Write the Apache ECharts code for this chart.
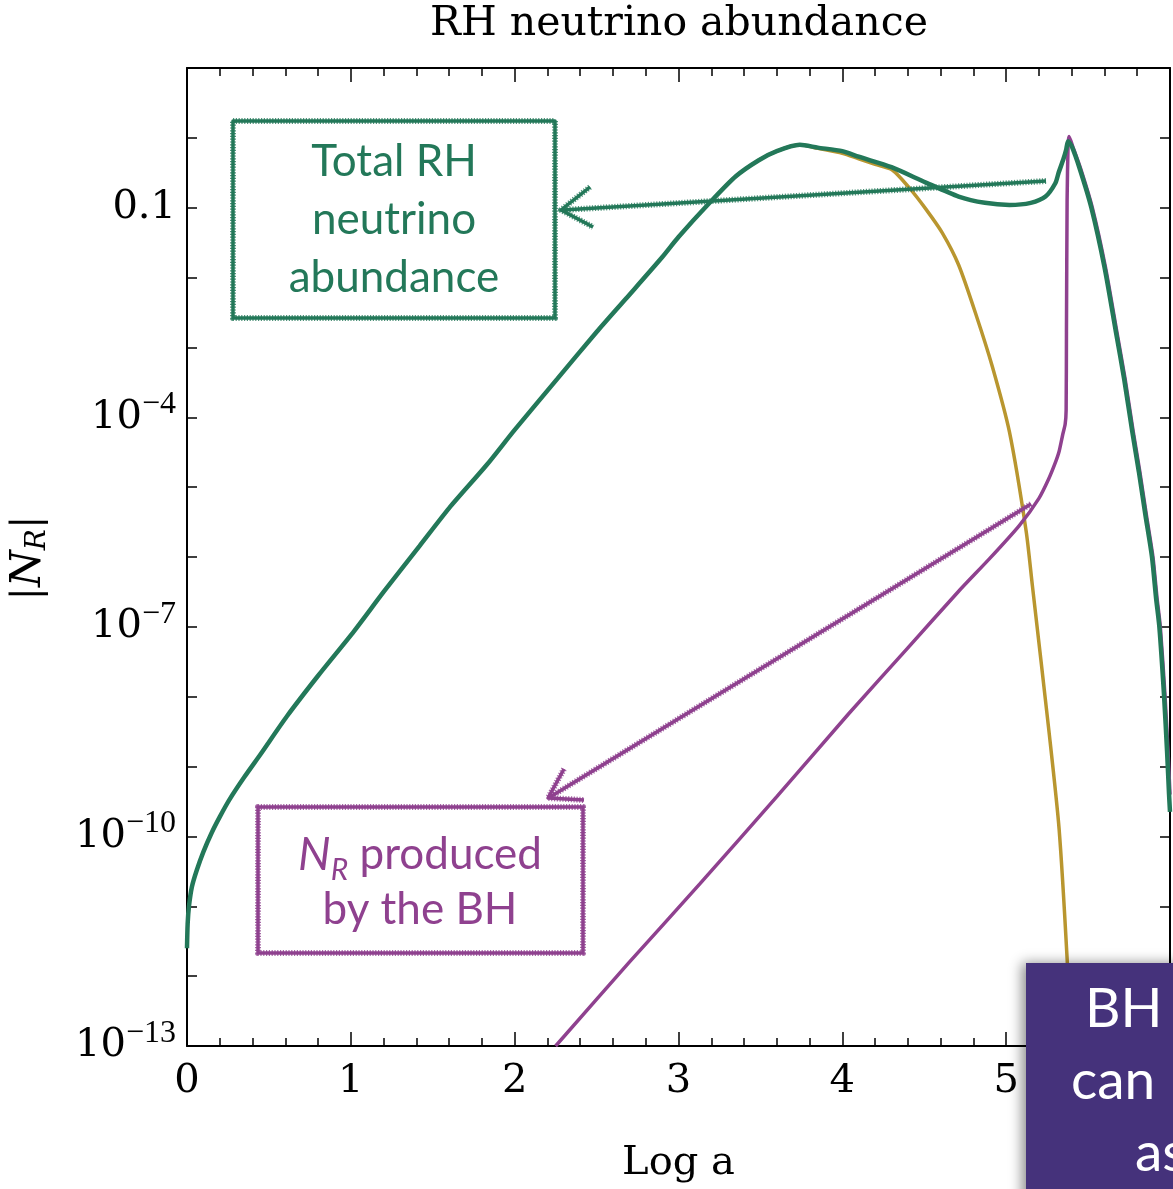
<!DOCTYPE html>
<html>
<head>
<meta charset="utf-8">
<script src="https://cdn.jsdelivr.net/npm/echarts@6.0.0/dist/echarts.min.js"></script>
<style>
  html, body { margin: 0; padding: 0; background: #fff; }
  #chart { width: 1173px; height: 1189px; }
</style>
</head>
<body>
<div id="chart"></div>
<script>
// values: x = Log a, y = log10 |N_R|
const greenX = [0, 0.004, 0.012, 0.03, 0.06, 0.10, 0.15, 0.20, 0.26, 0.35, 0.45, 0.61, 0.80, 1.02, 1.20, 1.42, 1.60, 1.83, 2.00, 2.26, 2.50, 2.68, 2.90, 3.00, 3.19, 3.35, 3.49, 3.60, 3.74, 3.85, 4.00, 4.10, 4.30, 4.51, 4.71, 4.87, 5.02, 5.15, 5.24, 5.30, 5.32, 5.35, 5.366, 5.378, 5.40, 5.45, 5.52, 5.60, 5.67, 5.72, 5.77, 5.81, 5.85, 5.89, 5.915, 5.935, 5.963, 5.982, 5.994, 6.0];
const greenLogN = [-11.60, -11.25, -11.00, -10.72, -10.48, -10.22, -9.95, -9.72, -9.47, -9.15, -8.82, -8.28, -7.70, -7.06, -6.50, -5.84, -5.30, -4.68, -4.18, -3.45, -2.78, -2.30, -1.71, -1.42, -0.93, -0.55, -0.32, -0.19, -0.10, -0.14, -0.19, -0.27, -0.42, -0.64, -0.84, -0.93, -0.96, -0.93, -0.84, -0.65, -0.50, -0.30, -0.17, -0.05, -0.12, -0.45, -1.00, -1.85, -2.78, -3.45, -4.21, -4.78, -5.40, -6.00, -6.59, -7.00, -7.96, -8.78, -9.39, -9.65];

const goldX = [3.19, 3.35, 3.49, 3.60, 3.74, 3.85, 4.00, 4.10, 4.20, 4.305, 4.41, 4.51, 4.61, 4.71, 4.82, 4.915, 5.02, 5.122, 5.16, 5.262, 5.323, 5.372, 5.40];
const goldLogN = [-0.93, -0.55, -0.32, -0.19, -0.10, -0.15, -0.22, -0.30, -0.38, -0.46, -0.72, -1.02, -1.36, -1.82, -2.56, -3.27, -4.21, -5.63, -6.41, -8.51, -9.89, -11.75, -13.2];

const purpleX = [2.25, 2.70, 3.13, 3.60, 4.04, 4.40, 4.71, 4.90, 5.08, 5.20, 5.26, 5.30, 5.323, 5.345, 5.36, 5.366, 5.368, 5.372, 5.378, 5.384, 5.406, 5.456, 5.526, 5.606, 5.676, 5.726, 5.776, 5.816, 5.856, 5.896, 5.921, 5.941, 5.969, 5.988, 6.0];
const purpleLogN = [-13.0, -11.80, -10.68, -9.43, -8.24, -7.30, -6.49, -6.02, -5.55, -5.16, -4.88, -4.65, -4.49, -4.25, -4.10, -3.90, -2.78, -0.89, -0.09, 0.02, -0.12, -0.45, -1.00, -1.85, -2.78, -3.45, -4.21, -4.78, -5.40, -6.00, -6.59, -7.00, -7.96, -8.78, -9.40];

// y tick labels (decade exponents that carry a label)
const yLabelExps = [-13, -10, -7, -4, -1];

const GREEN = '#237859';
const GOLD = '#b9962f';
const PURPLE = '#8f418f';
const SERIF = 'DejaVu Serif';

const zip = (xs, ys) => xs.map((x, i) => [x, ys[i]]);

const myChart = echarts.init(document.getElementById('chart'));

const axisCommon = {
  type: 'value',
  axisLine: { show: true, onZero: false, lineStyle: { color: '#000', width: 2 } },
  splitLine: { show: false },
};

// chalky stroke: solid core plus a broken outer edge
const chalk = (shape, type, color) => [
  { type, z: 100, shape, style: { fill: 'none', stroke: color, lineWidth: 3.5, lineJoin: 'round' } },
  { type, z: 100, shape, style: { fill: 'none', stroke: color, lineWidth: 6, lineDash: [1.2, 1.6], opacity: 0.8, lineJoin: 'round' } },
];

const option = {
  animation: false,
  backgroundColor: '#fff',
  grid: { left: 187, right: 2, top: 68, bottom: 139 },
  xAxis: [
    {
      ...axisCommon,
      min: 0, max: 6, interval: 1,
      position: 'bottom',
      axisTick: { inside: true, length: 14, lineStyle: { color: '#000', width: 1.5 } },
      minorTick: { show: true, splitNumber: 5, length: 8, lineStyle: { color: '#000', width: 1.5 } },
      axisLabel: {
        margin: 16, color: '#000', fontFamily: SERIF, fontSize: 40,
        formatter: (v) => (v === 6 ? '' : String(v)),
      },
      name: 'Log a',
      nameLocation: 'middle',
      nameGap: 98,
      nameTextStyle: { color: '#000', fontFamily: SERIF, fontSize: 40 },
    },
    {
      ...axisCommon,
      min: 0, max: 6, interval: 1,
      position: 'top',
      axisTick: { inside: true, length: 14, lineStyle: { color: '#000', width: 1.5 } },
      minorTick: { show: true, splitNumber: 5, length: 8, lineStyle: { color: '#000', width: 1.5 } },
      axisLabel: { show: false },
    },
  ],
  yAxis: [
    {
      ...axisCommon,
      min: -13, max: 1, interval: 1,
      position: 'left',
      axisTick: { inside: true, length: 10, lineStyle: { color: '#000', width: 1.5 } },
      axisLabel: {
        margin: 11, color: '#000', fontFamily: SERIF, fontSize: 40,
        formatter: (v) => {
          if (!yLabelExps.includes(v)) return '';
          if (v === -1) return '0.1';
          return '{b|10}{s|\u2212' + (-v) + '}';
        },
        rich: {
          b: { fontFamily: SERIF, fontSize: 40, color: '#000', lineHeight: 40 },
          s: { fontFamily: 'Liberation Serif', fontSize: 32, color: '#000', lineHeight: 30, padding: [0, 0, 25, 0] },
        },
      },
    },
    {
      ...axisCommon,
      min: -13, max: 1, interval: 1,
      position: 'right',
      axisTick: { inside: true, length: 10, lineStyle: { color: '#000', width: 1.5 } },
      axisLabel: { show: false },
    },
  ],
  series: [
    {
      name: 'thermal', type: 'line', data: zip(goldX, goldLogN),
      showSymbol: false, smooth: 0.25, clip: true,
      lineStyle: { color: GOLD, width: 3.5 },
    },
    {
      name: 'BH', type: 'line', data: zip(purpleX, purpleLogN),
      showSymbol: false, smooth: 0.2, clip: true,
      lineStyle: { color: PURPLE, width: 3.5 },
    },
    {
      name: 'total', type: 'line', data: zip(greenX, greenLogN),
      showSymbol: false, smooth: 0.25, clip: true,
      lineStyle: { color: GREEN, width: 4.5 },
    },
  ],
  graphic: [
    // title
    {
      type: 'text', x: 679, y: 24, z: 100,
      style: { text: 'RH neutrino abundance', font: '41px "DejaVu Serif"', fill: '#000', align: 'center', verticalAlign: 'middle' },
    },
    // y axis name |N_R|
    {
      type: 'text', x: 29, y: 558, rotation: Math.PI / 2, z: 100,
      style: {
        text: '|{n|N}{r|R}|', align: 'center', verticalAlign: 'middle',
        font: '40px "DejaVu Serif"', fill: '#000',
        rich: {
          n: { font: 'italic 42px "DejaVu Serif"', fill: '#000', lineHeight: 42 },
          r: { font: 'italic 28px "DejaVu Serif"', fill: '#000', lineHeight: 28, padding: [18, 0, 0, 0] },
        },
      },
    },
    // green annotation
    ...chalk({ x: 233, y: 121, width: 322, height: 197 }, 'rect', GREEN),
    {
      type: 'text', x: 394, y: 220, z: 100,
      style: { text: 'Total RH\nneutrino\nabundance', font: '44px Lato', fill: GREEN, align: 'center', verticalAlign: 'middle', lineHeight: 58 },
    },
    ...chalk({ points: [[1046, 181], [563, 210]] }, 'polyline', GREEN),
    ...chalk({ points: [[590, 187], [561, 210], [593, 227]] }, 'polyline', GREEN),
    // purple annotation
    ...chalk({ x: 258, y: 807, width: 325, height: 146 }, 'rect', PURPLE),
    {
      type: 'text', x: 420, y: 855, z: 100,
      style: {
        text: '{n|N}{r|R}{t| produced}', align: 'center', verticalAlign: 'middle',
        font: '44px Lato', fill: PURPLE,
        rich: {
          n: { font: 'italic 46px Lato', fill: PURPLE, lineHeight: 46 },
          r: { font: 'italic 30px Lato', fill: PURPLE, lineHeight: 30, padding: [30, 0, 0, 0] },
          t: { font: '44px Lato', fill: PURPLE, lineHeight: 44 },
        },
      },
    },
    {
      type: 'text', x: 420, y: 910, z: 100,
      style: { text: 'by the BH', font: '44px Lato', fill: PURPLE, align: 'center', verticalAlign: 'middle' },
    },
    ...chalk({ points: [[1031, 504], [550, 797]] }, 'polyline', PURPLE),
    ...chalk({ points: [[564, 769], [548, 798], [584, 800]] }, 'polyline', PURPLE),
    // slide overlay box
    {
      type: 'rect', z: 110,
      shape: { x: 1026, y: 963, width: 160, height: 240 },
      style: { fill: '#45327b', shadowBlur: 12, shadowColor: 'rgba(0,0,0,0.45)', shadowOffsetX: -4 },
    },
    {
      type: 'text', x: 1085, y: 1009, z: 111,
      style: { text: 'BH', font: '55px Lato', fill: '#fff', align: 'left', verticalAlign: 'middle' },
    },
    {
      type: 'text', x: 1071, y: 1081, z: 111,
      style: { text: 'can', font: '55px Lato', fill: '#fff', align: 'left', verticalAlign: 'middle' },
    },
    {
      type: 'text', x: 1135, y: 1153, z: 111,
      style: { text: 'as', font: '55px Lato', fill: '#fff', align: 'left', verticalAlign: 'middle' },
    },
  ],
};

myChart.setOption(option);
</script>
</body>
</html>
